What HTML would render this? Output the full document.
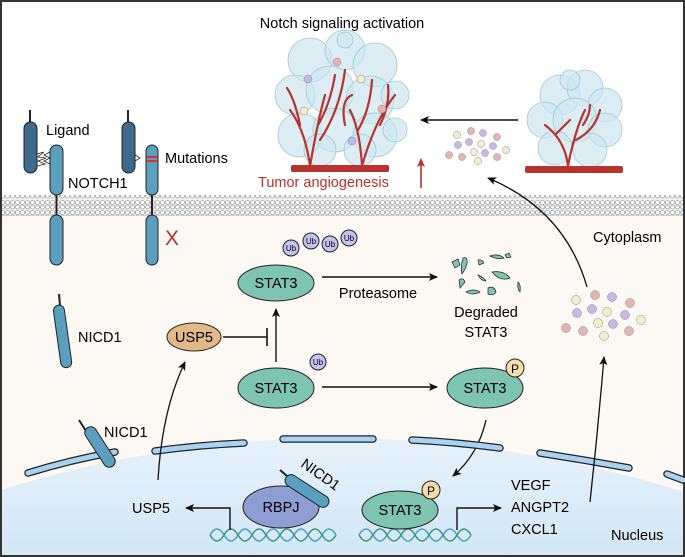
<!DOCTYPE html>
<html><head><meta charset="utf-8"><style>
html,body{margin:0;padding:0;background:#fff;width:685px;height:557px;overflow:hidden}
svg{display:block;font-family:"Liberation Sans",Arial,sans-serif}
</style></head><body>
<svg width="685" height="557" viewBox="0 0 685 557" xmlns="http://www.w3.org/2000/svg">
<defs>
<pattern id="mem" width="5" height="21" patternUnits="userSpaceOnUse">
<rect width="5" height="21" fill="#f0f0f0"/>
<circle cx="2.5" cy="2.5" r="2" fill="#fff" stroke="#888" stroke-width="0.6"/>
<circle cx="2.5" cy="7" r="2" fill="#fff" stroke="#888" stroke-width="0.6"/>
<circle cx="2.5" cy="13.5" r="2" fill="#fff" stroke="#888" stroke-width="0.6"/>
<circle cx="2.5" cy="18" r="2" fill="#fff" stroke="#888" stroke-width="0.6"/>
</pattern>
<marker id="ah" markerWidth="10" markerHeight="10" refX="8" refY="5" orient="auto" markerUnits="userSpaceOnUse"><path d="M0,1 L9,5 L0,9 L2,5 Z" fill="#111"/></marker>
<marker id="ahr" markerWidth="10" markerHeight="10" refX="8" refY="5" orient="auto" markerUnits="userSpaceOnUse"><path d="M0,1 L9,5 L0,9 L2,5 Z" fill="#b8322e"/></marker>
<linearGradient id="nuc" x1="0" y1="0" x2="0" y2="1"><stop offset="0" stop-color="#e6f2fb"/><stop offset="1" stop-color="#d3e7f6"/></linearGradient>
</defs>
<rect width="685" height="557" fill="#fff"/>
<rect x="0" y="215" width="685" height="342" fill="#fcf9f5"/>
<path d="M0,490 Q340,385 685,492 L685,557 L0,557 Z" fill="url(#nuc)"/>
<rect x="0" y="195" width="685" height="21" fill="url(#mem)"/>
<rect x="1" y="1" width="683" height="555" fill="none" stroke="#333" stroke-width="2"/>

<text x="342" y="28" font-size="14.5" text-anchor="middle">Notch signaling activation</text>

<g fill="#cde7ef" fill-opacity="0.7" stroke="#9dc9da" stroke-width="0.8">
<circle cx="310" cy="60" r="22"/><circle cx="345" cy="50" r="20"/><circle cx="375" cy="65" r="22"/>
<circle cx="295" cy="95" r="20"/><circle cx="330" cy="90" r="24"/><circle cx="370" cy="100" r="24"/><circle cx="395" cy="95" r="14"/>
<circle cx="300" cy="135" r="22"/><circle cx="335" cy="130" r="22"/><circle cx="375" cy="135" r="22"/><circle cx="395" cy="130" r="12"/>
<circle cx="320" cy="150" r="16"/><circle cx="360" cy="150" r="16"/><circle cx="345" cy="40" r="8"/>
</g>
<g fill="none" stroke="#b8322e" stroke-width="2.2" stroke-linecap="round">
<path d="M310,166 Q305,130 290,110 M300,125 Q295,100 287,88 M310,166 Q318,120 325,95 M318,125 Q330,105 335,75 M320,140 Q340,110 345,70"/>
<path d="M362,166 Q360,130 350,110 M358,130 Q370,110 372,80 M362,166 Q375,120 395,95 M380,125 Q390,105 388,85 M345,125 Q340,100 352,95"/>
</g>
<g stroke="#888" stroke-width="0.5">
<circle cx="337" cy="62" r="4" fill="#e6b3b3"/><circle cx="308" cy="79" r="4" fill="#c8b6e8"/><circle cx="361" cy="79" r="4" fill="#f2eec8"/>
<circle cx="304" cy="111" r="4" fill="#f2eec8"/><circle cx="382" cy="109" r="4" fill="#e6b3b3"/><circle cx="352" cy="141" r="4" fill="#c8b6e8"/>
</g>
<rect x="291" y="165" width="98" height="7" fill="#b8322e" rx="2"/>
<text x="258" y="187" font-size="14.5" fill="#b8322e">Tumor angiogenesis</text>
<line x1="421" y1="188" x2="421" y2="159" stroke="#b8322e" stroke-width="1.6" marker-end="url(#ahr)"/>

<line x1="518" y1="120" x2="421" y2="120" stroke="#111" stroke-width="1.5" marker-end="url(#ah)"/>
<g stroke="#888" stroke-width="0.5">
<circle cx="457" cy="135" r="3.5" fill="#f2eec8"/><circle cx="471" cy="131" r="3.5" fill="#e6b3b3"/><circle cx="483" cy="133" r="3.5" fill="#c8b6e8"/><circle cx="497" cy="137" r="3.5" fill="#e6b3b3"/>
<circle cx="458" cy="145" r="3.5" fill="#c8b6e8"/><circle cx="469" cy="142" r="3.5" fill="#c8b6e8"/><circle cx="481" cy="144" r="3.5" fill="#f2eec8"/><circle cx="493" cy="146" r="3.5" fill="#c8b6e8"/><circle cx="506" cy="150" r="3.5" fill="#f2eec8"/>
<circle cx="449" cy="155" r="3.5" fill="#e6b3b3"/><circle cx="462" cy="157" r="3.5" fill="#e6b3b3"/><circle cx="474" cy="152" r="3.5" fill="#f2eec8"/><circle cx="485" cy="153" r="3.5" fill="#c8b6e8"/><circle cx="478" cy="161" r="3.5" fill="#f2eec8"/><circle cx="497" cy="157" r="3.5" fill="#e6b3b3"/>
</g>

<g fill="#cde7ef" fill-opacity="0.7" stroke="#9dc9da" stroke-width="0.8">
<circle cx="560" cy="95" r="20"/><circle cx="585" cy="88" r="18"/><circle cx="605" cy="105" r="17"/>
<circle cx="545" cy="120" r="18"/><circle cx="575" cy="120" r="22"/><circle cx="605" cy="130" r="17"/>
<circle cx="555" cy="148" r="17"/><circle cx="590" cy="150" r="17"/><circle cx="570" cy="80" r="10"/>
</g>
<g fill="none" stroke="#b8322e" stroke-width="2.2" stroke-linecap="round">
<path d="M568,166 Q565,140 545,125 M556,134 Q565,125 570,120 M568,166 Q575,130 585,110 M576,140 Q595,130 600,110 M583,125 Q590,115 590,105"/>
</g>
<rect x="525" y="166" width="98" height="7" fill="#b8322e" rx="2"/>

<path d="M587,287 Q565,210 488,178" fill="none" stroke="#111" stroke-width="1.3" marker-end="url(#ah)"/>

<text x="593" y="242" font-size="14.5">Cytoplasm</text>

<g stroke="#222" stroke-width="1">
<line x1="30" y1="110" x2="30" y2="122" stroke-width="2"/>
<rect x="24" y="122" width="13" height="51" rx="6.5" fill="#3d6a8f"/>
<line x1="56.5" y1="195" x2="56.5" y2="216" stroke-width="2"/>
<rect x="50" y="145" width="13" height="50" rx="6.5" fill="#5b9fbf"/>
<rect x="50" y="215" width="13" height="50" rx="6.5" fill="#5b9fbf"/>
<path d="M37,154 L44,152 L38,157 L46,158 L38,161 L45,164 L37,166" fill="none" stroke-width="0.8"/>
<path d="M50,152 L44,155 L50,158 L44,161 L50,164" fill="none" stroke-width="0.8"/>
<line x1="128" y1="110" x2="128" y2="122" stroke-width="2"/>
<rect x="122" y="122" width="13" height="51" rx="6.5" fill="#3d6a8f"/>
<line x1="152" y1="195" x2="152" y2="216" stroke-width="2"/>
<rect x="146" y="145" width="12" height="50" rx="6" fill="#5b9fbf"/>
<rect x="146" y="215" width="12" height="50" rx="6" fill="#5b9fbf"/>
<path d="M135,155 L140,158 L135,161" fill="none" stroke-width="0.8"/>
</g>
<rect x="146" y="156" width="12" height="2" fill="#c33"/><rect x="146" y="160" width="12" height="2" fill="#c33"/>
<text x="46" y="135" font-size="14.5">Ligand</text>
<text x="68" y="188" font-size="14.5">NOTCH1</text>
<text x="165" y="163" font-size="14.5">Mutations</text>
<text x="165" y="245" font-size="21" fill="#b8322e">X</text>

<g stroke="#222" stroke-width="1">
<ellipse cx="276" cy="283" rx="38" ry="18" fill="#7fc4b0"/>
<circle cx="291" cy="248" r="8" fill="#c6c0ee"/><circle cx="311" cy="241" r="8" fill="#c6c0ee"/><circle cx="330" cy="244" r="8" fill="#c6c0ee"/><circle cx="349" cy="238" r="8" fill="#c6c0ee"/>
</g>
<g font-size="8" text-anchor="middle"><text x="291" y="251">Ub</text><text x="311" y="244">Ub</text><text x="330" y="247">Ub</text><text x="349" y="241">Ub</text></g>
<text x="276" y="288" font-size="14.5" text-anchor="middle">STAT3</text>
<line x1="322" y1="277" x2="437" y2="277" stroke="#111" stroke-width="1.5" marker-end="url(#ah)"/>
<text x="378" y="298" font-size="14.5" text-anchor="middle">Proteasome</text>

<g fill="#7fc4b0" stroke="#222" stroke-width="0.7">
<path d="M452,262 l6,-3 l2,6 l-5,3z"/><path d="M463,258 q5,-2 4,6 q-2,6 -5,10 q-2,-6 1,-16z"/><path d="M478,260 q4,-1 6,3 l-5,2z"/>
<path d="M490,256 q8,-3 14,2 q-6,2 -14,-2z"/><path d="M505,255 l4,-2 l2,4 l-4,1z"/>
<path d="M459,280 q4,-3 6,2 l-5,6z"/><path d="M478,275 q5,2 8,6 q-5,0 -8,-6z"/><path d="M492,272 q12,-2 18,6 q-10,4 -18,-6z"/>
<path d="M466,292 q8,-4 14,0 q-8,4 -14,0z"/><path d="M488,288 q6,-3 8,4 q-2,4 -8,2z"/><path d="M518,282 q3,2 2,10 q-3,-3 -2,-10z"/>
</g>
<text x="486" y="317" font-size="14.5" text-anchor="middle">Degraded</text>
<text x="486" y="337" font-size="14.5" text-anchor="middle">STAT3</text>

<line x1="59" y1="294" x2="60" y2="306" stroke="#222" stroke-width="2"/>
<rect x="57" y="305" width="11" height="63" rx="5.5" fill="#5b9fbf" stroke="#222" transform="rotate(-8 62 336)"/>
<text x="78" y="342" font-size="14.5">NICD1</text>

<ellipse cx="194" cy="337" rx="27" ry="14" fill="#e3b98a" stroke="#222"/>
<text x="194" y="342" font-size="14.5" text-anchor="middle">USP5</text>
<line x1="223" y1="337" x2="267" y2="337" stroke="#111" stroke-width="1.4"/>
<line x1="267" y1="328" x2="267" y2="346" stroke="#111" stroke-width="1.6"/>
<line x1="276" y1="362" x2="276" y2="309" stroke="#111" stroke-width="1.4" marker-end="url(#ah)"/>

<ellipse cx="276" cy="388" rx="38" ry="20" fill="#7fc4b0" stroke="#222"/>
<text x="276" y="393" font-size="14.5" text-anchor="middle">STAT3</text>
<circle cx="318" cy="362" r="8" fill="#c6c0ee" stroke="#222"/>
<text x="318" y="365" font-size="8" text-anchor="middle">Ub</text>
<line x1="322" y1="387" x2="437" y2="387" stroke="#111" stroke-width="1.5" marker-end="url(#ah)"/>
<ellipse cx="485" cy="388" rx="38" ry="20" fill="#7fc4b0" stroke="#222"/>
<text x="485" y="393" font-size="14.5" text-anchor="middle">STAT3</text>
<circle cx="515" cy="368" r="9" fill="#f5dca8" stroke="#222"/>
<text x="515" y="373" font-size="12" text-anchor="middle">P</text>
<path d="M486,420 Q478,455 453,476" fill="none" stroke="#111" stroke-width="1.3" marker-end="url(#ah)"/>

<g stroke="#888" stroke-width="0.5">
<circle cx="576" cy="300" r="4.5" fill="#f2eec8"/><circle cx="595" cy="295" r="4.5" fill="#e6b3b3"/><circle cx="612" cy="297" r="4.5" fill="#c8b6e8"/><circle cx="630" cy="303" r="4.5" fill="#e6b3b3"/>
<circle cx="577" cy="313" r="4.5" fill="#c8b6e8"/><circle cx="592" cy="309" r="4.5" fill="#c8b6e8"/><circle cx="607" cy="312" r="4.5" fill="#f2eec8"/><circle cx="625" cy="315" r="4.5" fill="#c8b6e8"/><circle cx="641" cy="320" r="4.5" fill="#f2eec8"/>
<circle cx="566" cy="328" r="4.5" fill="#e6b3b3"/><circle cx="583" cy="331" r="4.5" fill="#e6b3b3"/><circle cx="598" cy="323" r="4.5" fill="#f2eec8"/><circle cx="613" cy="324" r="4.5" fill="#c8b6e8"/><circle cx="604" cy="336" r="4.5" fill="#f2eec8"/><circle cx="629" cy="331" r="4.5" fill="#e6b3b3"/>
</g>

<g fill="none" stroke-linecap="round">
<g stroke="#222" stroke-width="7.5">
<path d="M28,473 Q70,460 115,452"/><path d="M155,451 Q200,445 244,443"/><path d="M283,439 L373,439"/><path d="M412,440 Q455,442 500,448"/><path d="M540,453 Q585,460 629,468"/><path d="M667,474 L683,480"/>
</g>
<g stroke="#a8d2f2" stroke-width="5">
<path d="M28,473 Q70,460 115,452"/><path d="M155,451 Q200,445 244,443"/><path d="M283,439 L373,439"/><path d="M412,440 Q455,442 500,448"/><path d="M540,453 Q585,460 629,468"/><path d="M667,474 L683,480"/>
</g>
</g>
<line x1="79" y1="420" x2="86" y2="431" stroke="#222" stroke-width="2"/>
<rect x="94" y="424" width="12" height="46" rx="6" fill="#5b9fbf" stroke="#222" transform="rotate(-33 100 447)"/>
<text x="104" y="437" font-size="14.5">NICD1</text>

<path d="M158,480 Q162,410 185,362" fill="none" stroke="#111" stroke-width="1.3" marker-end="url(#ah)"/>

<g fill="none" stroke-width="1.6">
<path d="M210,535 q7,-12 14,0 t14,0 t14,0 t14,0 t14,0 t14,0 t14,0 t14,0 t14,0" stroke="#4ba3c7"/>
<path d="M210,535 q7,12 14,0 t14,0 t14,0 t14,0 t14,0 t14,0 t14,0 t14,0 t14,0" stroke="#3c9a7c"/>
<path d="M359,535 q7,-12 14,0 t14,0 t14,0 t14,0 t14,0 t14,0 t14,0 t14,0" stroke="#4ba3c7"/>
<path d="M359,535 q7,12 14,0 t14,0 t14,0 t14,0 t14,0 t14,0 t14,0 t14,0" stroke="#3c9a7c"/>
</g>
<polyline points="230,530 230,508 186,508" fill="none" stroke="#111" stroke-width="1.4" marker-end="url(#ah)"/>
<text x="151" y="513" font-size="14.5" text-anchor="middle">USP5</text>
<ellipse cx="281" cy="507" rx="38" ry="21" fill="#8f9ed2" stroke="#222"/>
<text x="281" y="512" font-size="14.5" text-anchor="middle">RBPJ</text>
<line x1="280" y1="470" x2="287" y2="476" stroke="#222" stroke-width="2"/>
<rect x="301" y="466" width="12" height="50" rx="6" fill="#5b9fbf" stroke="#222" transform="rotate(-57 307 491)"/>
<text x="300" y="466" font-size="14.5" transform="rotate(35 300 466)">NICD1</text>

<ellipse cx="400" cy="510" rx="38" ry="19" fill="#7fc4b0" stroke="#222"/>
<text x="400" y="515" font-size="14.5" text-anchor="middle">STAT3</text>
<circle cx="431" cy="490" r="9" fill="#f5dca8" stroke="#222"/>
<text x="431" y="495" font-size="12" text-anchor="middle">P</text>
<polyline points="457,530 457,508 501,508" fill="none" stroke="#111" stroke-width="1.4" marker-end="url(#ah)"/>
<text x="511" y="490" font-size="14.5">VEGF</text>
<text x="511" y="512" font-size="14.5">ANGPT2</text>
<text x="511" y="534" font-size="14.5">CXCL1</text>
<path d="M590,502 Q598,430 604,357" fill="none" stroke="#111" stroke-width="1.3" marker-end="url(#ah)"/>
<text x="611" y="540" font-size="14.5">Nucleus</text>
</svg>
</body></html>
